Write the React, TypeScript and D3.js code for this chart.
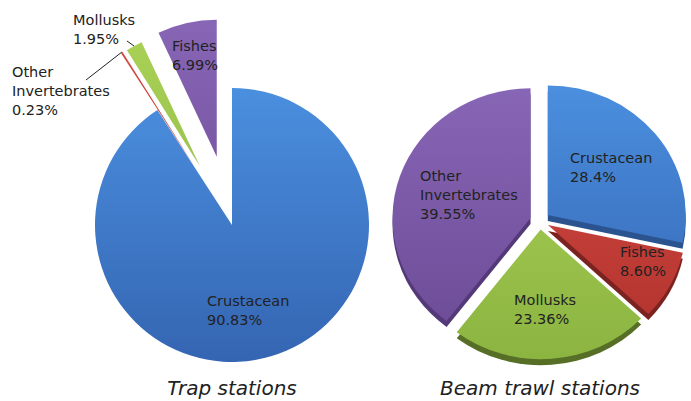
import React from "react";
import * as d3 from "d3";

// Trap stations, clockwise from 12 o'clock
const trapCategories = ["Crustacean", "Other Invertebrates", "Mollusks", "Fishes"];
const trapValues = [90.83, 0.23, 1.95, 6.99];
const trapPercents = ["90.83%", "0.23%", "1.95%", "6.99%"];

// Beam trawl stations, clockwise from 12 o'clock
const beamCategories = ["Crustacean", "Fishes", "Mollusks", "Other Invertebrates"];
const beamValues = [28.4, 8.6, 23.36, 39.55];
const beamPercents = ["28.4%", "8.60%", "23.36%", "39.55%"];

const titles = ["Trap stations", "Beam trawl stations"];

// slice colours by position (top, bottom, side)
const palette = [
  { top: "#4b8fdf", bottom: "#3465b2", side: "#2a5390" },
  { top: "#d44c45", bottom: "#b1312c", side: "#7b2320" },
  { top: "#abd257", bottom: "#8bb441", side: "#566e25" },
  { top: "#8866b6", bottom: "#6b4a95", side: "#543979" },
];

const W = 691;
const H = 401;

type PieCfg = {
  id: string;
  cx: number;
  cy: number;
  r: number;
  sy: number; // vertical squash of the pie
  depth: number;
  explode: number[];
  categories: string[];
  values: number[];
  percents: string[];
  // text position relative to the pie centre
  labelPos: { x: number; y: number }[];
  leaders: (null | { x: number; y: number })[];
  title: string;
};

const pies: PieCfg[] = [
  {
    id: "trap",
    cx: 232,
    cy: 225,
    r: 137,
    sy: 1,
    depth: 0,
    explode: [0, 68, 67, 70],
    categories: trapCategories,
    values: trapValues,
    percents: trapPercents,
    labelPos: [
      { x: -25, y: 81 },
      { x: -220, y: -148 },
      { x: -159, y: -200 },
      { x: -60, y: -174 },
    ],
    leaders: [null, { x: -146, y: -145 }, { x: -105, y: -184 }, null],
    title: titles[0],
  },
  {
    id: "beam",
    cx: 540,
    cy: 221,
    r: 138,
    sy: 0.94,
    depth: 6,
    explode: [10, 9, 9, 10],
    categories: beamCategories,
    values: beamValues,
    percents: beamPercents,
    labelPos: [
      { x: 30, y: -58 },
      { x: 80, y: 36 },
      { x: -26, y: 84 },
      { x: -120, y: -40 },
    ],
    leaders: [null, null, null, null],
    title: titles[1],
  },
];

const FONT = "'DejaVu Sans', Verdana, sans-serif";
const LINE = 19;

function Pie({ cfg }: { cfg: PieCfg }) {
  const arcs = d3
    .pie<number>()
    .sort(null)
    .value((d) => d)(cfg.values);
  const arc = d3.arc<d3.PieArcDatum<number>>().innerRadius(0).outerRadius(cfg.r);

  const offset = (a: d3.PieArcDatum<number>, i: number) => {
    const mid = (a.startAngle + a.endAngle) / 2;
    const e = cfg.explode[i];
    return [Math.sin(mid) * e, -Math.cos(mid) * e];
  };

  return (
    <g transform={`translate(${cfg.cx},${cfg.cy})`}>
      <defs>
        {palette.map((p, i) => (
          <linearGradient
            key={i}
            id={`${cfg.id}-g${i}`}
            gradientUnits="userSpaceOnUse"
            x1={0}
            y1={-cfg.r}
            x2={0}
            y2={cfg.r}
          >
            <stop offset="0%" stopColor={p.top} />
            <stop offset="100%" stopColor={p.bottom} />
          </linearGradient>
        ))}
      </defs>
      {cfg.depth > 0 &&
        arcs.map((a, i) => {
          const [ox, oy] = offset(a, i);
          return (
            <path
              key={`s${i}`}
              d={arc(a) || ""}
              transform={`translate(0,${cfg.depth}) scale(1,${cfg.sy}) translate(${ox},${oy})`}
              fill={palette[i].side}
            />
          );
        })}
      {arcs.map((a, i) => {
        const [ox, oy] = offset(a, i);
        return (
          <path
            key={`f${i}`}
            d={arc(a) || ""}
            transform={`scale(1,${cfg.sy}) translate(${ox},${oy})`}
            fill={`url(#${cfg.id}-g${i})`}
          />
        );
      })}
      {arcs.map((a, i) => {
        const lead = cfg.leaders[i];
        if (!lead) return null;
        const mid = (a.startAngle + a.endAngle) / 2;
        const [ox, oy] = offset(a, i);
        const ex = ox + Math.sin(mid) * cfg.r;
        const ey = (oy - Math.cos(mid) * cfg.r) * cfg.sy;
        return (
          <line
            key={`l${i}`}
            x1={lead.x}
            y1={lead.y}
            x2={ex}
            y2={ey}
            stroke="#222"
            strokeWidth={1}
          />
        );
      })}
      {cfg.categories.map((c, i) => {
        const lines = [...c.split(" "), cfg.percents[i]];
        const p = cfg.labelPos[i];
        return (
          <text
            key={`t${i}`}
            x={p.x}
            y={p.y}
            fontFamily={FONT}
            fontSize={14.5}
            fill="#222"
          >
            {lines.map((ln, j) => (
              <tspan key={j} x={p.x} dy={j === 0 ? 0 : LINE}>
                {ln}
              </tspan>
            ))}
          </text>
        );
      })}
      <text
        x={0}
        y={395 - cfg.cy}
        textAnchor="middle"
        fontFamily={FONT}
        fontStyle="italic"
        fontSize={20}
        fill="#222"
      >
        {cfg.title}
      </text>
    </g>
  );
}

export default function App() {
  return (
    <svg
      width={W}
      height={H}
      style={{ position: "absolute", left: 0, top: 0, background: "#fff" }}
    >
      <rect width={W} height={H} fill="#fff" />
      {pies.map((p) => (
        <Pie key={p.id} cfg={p} />
      ))}
    </svg>
  );
}
